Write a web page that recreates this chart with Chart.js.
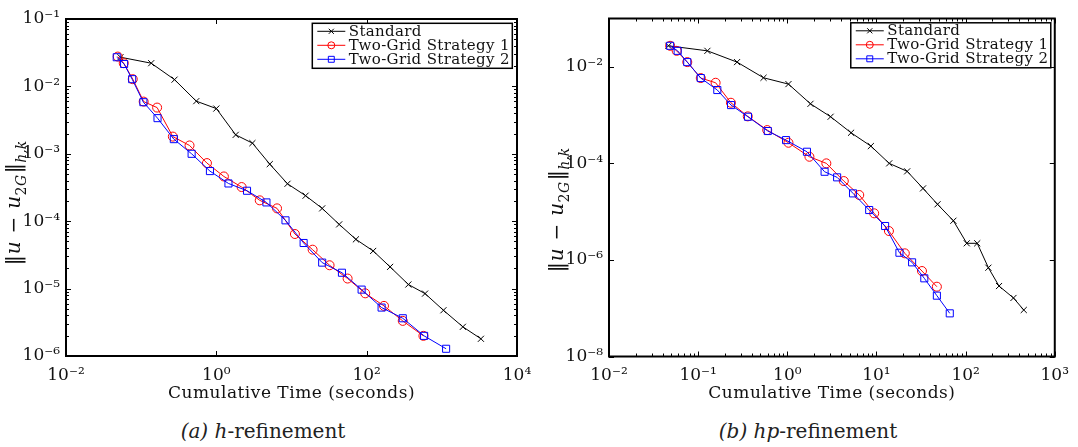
<!DOCTYPE html>
<html><head><meta charset="utf-8">
<script src="https://cdn.jsdelivr.net/npm/chart.js@4/dist/chart.umd.min.js"></script>
<style>
body{margin:0;background:#fff;width:1078px;height:447px;position:relative;overflow:hidden;font-family:'DejaVu Serif',serif;}
canvas{position:absolute;top:0;}
.cap{position:absolute;top:418px;font-size:20px;line-height:26px;text-align:center;color:#222;}
</style></head><body>
<canvas id="c1" width="545" height="410" style="left:0"></canvas>
<canvas id="c2" width="533" height="410" style="left:545px"></canvas>
<div class="cap" style="left:0;width:526px"><i>(a) h</i>-refinement</div>
<div class="cap" style="left:545px;width:526px"><i>(b) hp</i>-refinement</div>
<script>
// ---------- data ----------
const seriesNames = ['Standard', 'Two-Grid Strategy 1', 'Two-Grid Strategy 2'];
const xTitle = 'Cumulative Time (seconds)';

// (a) h-refinement
const hStdTime = [0.053, 0.136, 0.278, 0.541, 1.0, 1.81, 3.02, 5.14, 8.85, 15.4, 25.6, 43.1, 71.9, 122, 205, 359, 598, 1050, 1905, 3311];
const hStdErr  = [0.0271, 0.0221, 0.0126, 0.00604, 0.00469, 0.00191, 0.00144, 7.03e-4, 3.59e-4, 2.39e-4, 1.55e-4, 8.97e-5, 5.38e-5, 3.62e-5, 2.10e-5, 1.15e-5, 8.43e-6, 4.77e-6, 2.71e-6, 1.80e-6];
const hTG1Time = [0.0488, 0.0586, 0.0773, 0.108, 0.163, 0.264, 0.44, 0.75, 1.26, 2.17, 3.78, 6.42, 11.1, 19.1, 32.1, 55.8, 95.7, 170, 302, 569];
const hTG1Err  = [0.0277, 0.0221, 0.0128, 0.00595, 0.00485, 0.0018, 0.00133, 7.28e-4, 4.61e-4, 3.21e-4, 2.04e-4, 1.55e-4, 6.46e-5, 3.78e-5, 2.22e-5, 1.41e-5, 8.51e-6, 5.54e-6, 3.32e-6, 1.99e-6];
const hTG2Time = [0.0473, 0.0593, 0.0759, 0.107, 0.165, 0.272, 0.469, 0.822, 1.45, 2.56, 4.64, 8.32, 14.5, 25.6, 46.9, 85.7, 158, 302, 581, 1140];
const hTG2Err  = [0.0271, 0.0215, 0.0128, 0.00583, 0.00338, 0.00165, 0.001, 5.54e-4, 3.63e-4, 2.83e-4, 1.90e-4, 1.03e-4, 4.75e-5, 2.43e-5, 1.72e-5, 9.66e-6, 5.23e-6, 3.63e-6, 1.99e-6, 1.28e-6];

// (b) hp-refinement
const hpStdTime = [0.0464, 0.127, 0.273, 0.541, 1.03, 1.82, 3.06, 5.19, 8.65, 13.9, 22.1, 33.3, 48.4, 72.9, 103, 135, 180, 237, 344, 449];
const hpStdErr  = [0.0272, 0.0214, 0.0125, 0.00592, 0.00438, 0.00171, 9.23e-4, 4.3e-4, 2.28e-4, 1.0e-4, 6.83e-5, 3.03e-5, 1.42e-5, 6.48e-6, 2.21e-6, 2.21e-6, 6.9e-7, 2.88e-7, 1.63e-7, 9.19e-8];
const hpTG1Time = [0.0485, 0.0574, 0.0755, 0.107, 0.157, 0.233, 0.36, 0.595, 1.03, 1.77, 2.74, 4.3, 6.41, 9.43, 13.8, 20.8, 32.4, 47.6];
const hpTG1Err  = [0.0272, 0.0214, 0.0125, 0.00584, 0.00467, 0.0018, 9.4e-4, 4.89e-4, 2.67e-4, 1.37e-4, 1.0e-4, 4.3e-5, 2.21e-5, 9.23e-6, 3.97e-6, 1.37e-6, 5.89e-7, 2.79e-7];
const hpTG2Time = [0.0485, 0.0589, 0.0755, 0.107, 0.164, 0.234, 0.362, 0.604, 0.968, 1.66, 2.62, 3.62, 5.46, 8.29, 12.5, 18.1, 25.1, 34.4, 47.6, 66.4];
const hpTG2Err  = [0.0272, 0.0214, 0.0125, 0.00584, 0.0033, 0.00161, 9.23e-4, 4.67e-4, 3.03e-4, 1.74e-4, 6.7e-5, 5.13e-5, 2.39e-5, 1.08e-5, 5.04e-6, 1.41e-6, 8.91e-7, 4.16e-7, 1.82e-7, 7.83e-8];

// tick labels (major decades that carry a label)
const hTicksX  = [1e-2, 1e0, 1e2, 1e4];
const hTicksY  = [1e-6, 1e-5, 1e-4, 1e-3, 1e-2, 1e-1];
const hpTicksX = [1e-2, 1e-1, 1e0, 1e1, 1e2, 1e3];
const hpTicksY = [1e-8, 1e-6, 1e-4, 1e-2];

// ---------- helpers ----------
const FONT = '"DejaVu Serif", serif';
Chart.defaults.font.family = FONT;
Chart.defaults.color = '#111';
const SUP = {'-':'\u207B','0':'\u2070','1':'\u00B9','2':'\u00B2','3':'\u00B3','4':'\u2074','5':'\u2075','6':'\u2076','7':'\u2077','8':'\u2078','9':'\u2079'};
function fmtPow(v) {
  const e = Math.round(Math.log10(v));
  return '10' + String(e).split('').map(c => SUP[c]).join('');
}
function tickBuilder(majors, withMinor) {
  return function (scale) {
    const t = [];
    majors.forEach((m, i) => {
      t.push({value: m, major: true});
      if (withMinor && i < majors.length - 1) {
        for (let k = 2; k <= 9; k++) t.push({value: m * k, major: false});
      }
    });
    scale.ticks = t;
  };
}
function pts(xs, ys) { return xs.map((x, i) => ({x: x, y: ys[i]})); }

function makeDatasets(sT, sE, aT, aE, bT, bE) {
  return [
    {label: seriesNames[0], data: pts(sT, sE), showLine: true, borderColor: '#000', borderWidth: 1,
     pointStyle: 'crossRot', pointRadius: 4.3, pointBorderColor: '#000', pointBorderWidth: 1,
     pointBackgroundColor: 'rgba(0,0,0,0)', backgroundColor: 'rgba(0,0,0,0)', order: 2},
    {label: seriesNames[1], data: pts(aT, aE), showLine: true, borderColor: '#ff0000', borderWidth: 1,
     pointStyle: 'circle', pointRadius: 4.5, pointBorderColor: '#ff0000', pointBorderWidth: 1,
     pointBackgroundColor: 'rgba(0,0,0,0)', backgroundColor: 'rgba(0,0,0,0)', order: 1},
    {label: seriesNames[2], data: pts(bT, bE), showLine: true, borderColor: '#0000ff', borderWidth: 1,
     pointStyle: 'rect', pointRadius: 5, pointBorderColor: '#0000ff', pointBorderWidth: 1,
     pointBackgroundColor: 'rgba(0,0,0,0)', backgroundColor: 'rgba(0,0,0,0)', order: 0}
  ];
}

function drawMarker(ctx, style, x, y, r) {
  ctx.beginPath();
  if (style === 'circle') { ctx.arc(x, y, r, 0, Math.PI * 2); }
  else if (style === 'rect') { const s = r * Math.SQRT1_2; ctx.rect(x - s, y - s, 2 * s, 2 * s); }
  else { const d = r * Math.SQRT1_2; ctx.moveTo(x - d, y - d); ctx.lineTo(x + d, y + d); ctx.moveTo(x - d, y + d); ctx.lineTo(x + d, y - d); }
  ctx.stroke();
}

function drawYTitle(ctx, cx, cy, size) {
  const sub = Math.round(size * 0.72);
  const parts = [
    ['\u2016', `${size}px ${FONT}`, 0, 1],
    ['u', `italic ${size}px ${FONT}`, 0, 1.5],
    [' \u2212 ', `${size}px ${FONT}`, 0, 1.5],
    ['u', `italic ${size}px ${FONT}`, 0, 0.5],
    ['2', `${sub}px ${FONT}`, size * 0.3, 0.5],
    ['G', `italic ${sub}px ${FONT}`, size * 0.3, 1.5],
    ['\u2016', `${size}px ${FONT}`, 0, 0.5],
    ['h,k', `italic ${sub}px ${FONT}`, size * 0.3, 0]
  ];
  ctx.save();
  let total = 0;
  parts.forEach(p => { ctx.font = p[1]; p.push(ctx.measureText(p[0]).width + p[3]); total += p[4]; });
  ctx.translate(cx, cy);
  ctx.rotate(-Math.PI / 2);
  ctx.textBaseline = 'alphabetic';
  ctx.textAlign = 'left';
  ctx.fillStyle = '#111';
  let x = -total / 2;
  parts.forEach(p => { ctx.font = p[1]; ctx.fillText(p[0], x, size * 0.36 + p[2]); x += p[4]; });
  ctx.restore();
}

const framePlugin = {
  id: 'frame',
  afterDraw(chart, args, o) {
    const ctx = chart.ctx, ca = chart.chartArea, xs = chart.scales.x, ys = chart.scales.y;
    const L = ca.left, R = ca.right, T = ca.top, B = ca.bottom;
    ctx.save();
    // inward ticks on all four sides
    ctx.strokeStyle = '#000';
    ctx.lineWidth = 1;
    ctx.beginPath();
    xs.ticks.forEach(t => {
      const px = Math.round(xs.getPixelForValue(t.value)) + 0.5;
      const len = t.major ? 5 : 3;
      ctx.moveTo(px, B); ctx.lineTo(px, B - len);
      ctx.moveTo(px, T); ctx.lineTo(px, T + len);
    });
    ys.ticks.forEach(t => {
      const py = Math.round(ys.getPixelForValue(t.value)) + 0.5;
      const len = t.major ? 5 : 3;
      ctx.moveTo(L, py); ctx.lineTo(L + len, py);
      ctx.moveTo(R, py); ctx.lineTo(R - len, py);
    });
    ctx.stroke();
    // box
    ctx.lineWidth = 2;
    ctx.strokeRect(L, T, R - L, B - T);

    // legend
    const bw = 200, bh = 45;
    const bx = R - o.legendRight - bw, by = T + 4.3;
    ctx.fillStyle = '#fff';
    ctx.fillRect(bx, by, bw, bh);
    ctx.lineWidth = 1.5;
    ctx.strokeStyle = '#000';
    ctx.strokeRect(bx, by, bw, bh);
    chart.data.datasets.forEach((ds, i) => {
      const yy = by + 8 + 14 * i;
      ctx.strokeStyle = ds.borderColor;
      ctx.lineWidth = 1;
      ctx.beginPath(); ctx.moveTo(bx + 5, yy); ctx.lineTo(bx + 33, yy); ctx.stroke();
      const r = ds.pointStyle === 'circle' ? 3.5 : (ds.pointStyle === 'rect' ? 4.2 : 3.6);
      drawMarker(ctx, ds.pointStyle, bx + 19, yy, r);
      ctx.fillStyle = '#111';
      ctx.font = `15px ${FONT}`;
      ctx.textBaseline = 'middle';
      ctx.textAlign = 'left';
      try { ctx.letterSpacing = '0.35px'; } catch (e) {}
      ctx.fillText(ds.label, bx + 36.5, yy + 0.5);
      try { ctx.letterSpacing = '0px'; } catch (e) {}
    });

    // x title
    ctx.fillStyle = '#111';
    ctx.font = `17px ${FONT}`;
    ctx.textAlign = 'center';
    ctx.textBaseline = 'middle';
    try { ctx.letterSpacing = '0.5px'; } catch (e) {}
    ctx.fillText(xTitle, (L + R) / 2, o.xTitleY);
    try { ctx.letterSpacing = '0px'; } catch (e) {}
    ctx.restore();

    drawYTitle(ctx, o.yTitleX, o.yTitleY, 20);
  }
};

function makeChart(id, datasets, xMin, xMax, yMin, yMax, xMaj, xMinor, yMaj, yMinor, pad, yW, xH, o) {
  return new Chart(document.getElementById(id), {
    type: 'scatter',
    data: {datasets: datasets},
    plugins: [framePlugin],
    options: {
      responsive: false,
      animation: false,
      events: [],
      layout: {padding: pad},
      plugins: {legend: {display: false}, tooltip: {enabled: false}, frame: o},
      elements: {line: {tension: 0}},
      scales: {
        x: {
          type: 'logarithmic', position: 'bottom', min: xMin, max: xMax,
          afterBuildTicks: tickBuilder(xMaj, xMinor),
          afterFit: s => { s.height = xH; },
          grid: {display: false, drawTicks: false},
          border: {display: false},
          ticks: {autoSkip: false, maxRotation: 0, minRotation: 0, padding: 9, color: '#111',
                  font: {size: 17, family: FONT},
                  callback: function (v, i, t) { return t[i].major ? fmtPow(v) : ''; }}
        },
        y: {
          type: 'logarithmic', position: 'left', min: yMin, max: yMax,
          afterBuildTicks: tickBuilder(yMaj, yMinor),
          afterFit: s => { s.width = yW; },
          grid: {display: false, drawTicks: false},
          border: {display: false},
          ticks: {autoSkip: false, padding: 6, color: '#111',
                  font: {size: 17, family: FONT},
                  callback: function (v, i, t) { return t[i].major ? fmtPow(v) : ''; }}
        }
      }
    }
  });
}

makeChart('c1', makeDatasets(hStdTime, hStdErr, hTG1Time, hTG1Err, hTG2Time, hTG2Err),
  1e-2, 1e4, 1e-6, 1e-1, hTicksX, false, hTicksY, true,
  {left: 0, top: 19, right: 28, bottom: 0}, 66, 54,
  {legendRight: 4.7, xTitleY: 394, yTitleX: 13, yTitleY: 203});

makeChart('c2', makeDatasets(hpStdTime, hpStdErr, hpTG1Time, hpTG1Err, hpTG2Time, hpTG2Err),
  1e-2, 1e3, 1e-8, 1e-1, hpTicksX, true, hpTicksY, false,
  {left: 0, top: 18.5, right: 19, bottom: 0}, 64, 53.5,
  {legendRight: 4, xTitleY: 394, yTitleX: 11, yTitleY: 210});
</script>
</body></html>
